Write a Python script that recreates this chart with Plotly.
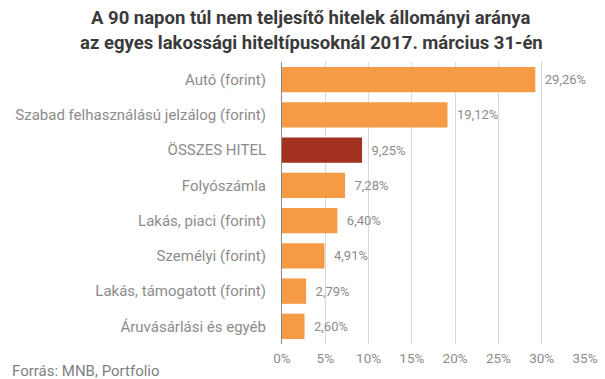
import plotly.graph_objects as go

categories = ["Autó (forint)", "Szabad felhasználású jelzálog (forint)", "ÖSSZES HITEL",
              "Folyószámla", "Lakás, piaci (forint)", "Személyi (forint)",
              "Lakás, támogatott (forint)", "Áruvásárlási és egyéb"]
values = [29.26, 19.12, 9.25, 7.28, 6.40, 4.91, 2.79, 2.60]
value_labels = ["29,26%", "19,12%", "9,25%", "7,28%", "6,40%", "4,91%", "2,79%", "2,60%"]
tick_vals = [0, 5, 10, 15, 20, 25, 30, 35]
tick_text = ["0%", "5%", "10%", "15%", "20%", "25%", "30%", "35%"]
title_lines = ["A 90 napon túl nem teljesítő hitelek állományi aránya",
               "az egyes lakossági hiteltípusoknál 2017. március 31-én"]
source_text = "Forrás: MNB, Portfolio"

colors = ["#A33121" if c == "ÖSSZES HITEL" else "#F59B45" for c in categories]

W, H = 605, 379
L, R, T, B = 282, 20, 62, 35

fig = go.Figure(go.Bar(
    y=categories, x=values, orientation="h",
    marker=dict(color=colors, line=dict(width=0)),
    text=["  " + t for t in value_labels], textposition="outside",
    textfont=dict(family="Roboto", size=13, color="#8C8C8C"),
    cliponaxis=False, width=0.72,
))

def px_x(x):
    return (x - L) / (W - L - R)

def px_y(y):
    return (H - B - y) / (H - T - B)

annotations = [
    dict(text=title_lines[0], xref="paper", yref="paper", x=px_x(311), y=px_y(18),
         xanchor="center", yanchor="middle", showarrow=False,
         font=dict(family="Roboto", size=18.5, color="#3A3A3A", weight="bold")),
    dict(text=title_lines[1], xref="paper", yref="paper", x=px_x(311), y=px_y(43),
         xanchor="center", yanchor="middle", showarrow=False,
         font=dict(family="Roboto", size=18.5, color="#3A3A3A", weight="bold")),
    dict(text=source_text, xref="paper", yref="paper", x=px_x(10), y=px_y(371),
         xanchor="left", yanchor="middle", showarrow=False,
         font=dict(family="Roboto", size=15, color="#7F7F7F")),
]

fig.update_layout(
    width=W, height=H,
    margin=dict(l=L, r=R, t=T, b=B, autoexpand=False),
    paper_bgcolor="white", plot_bgcolor="white",
    showlegend=False,
    xaxis=dict(range=[0, 35], tickvals=tick_vals, ticktext=tick_text,
               showgrid=True, gridcolor="#D9D9D9", gridwidth=1, automargin=False,
               zeroline=False, showline=False, ticks="", ticklabelstandoff=4,
               tickfont=dict(family="Roboto", size=13.5, color="#8C8C8C")),
    yaxis=dict(autorange="reversed", showline=True, linecolor="#8C8C8C", linewidth=1,
               ticks="", ticklabelstandoff=12, automargin=False,
               tickfont=dict(family="Roboto", size=15, color="#8C8C8C")),
    annotations=annotations,
)

fig.write_html("out.html", config={"displayModeBar": False},
               post_script="document.body.style.margin='0px';")
